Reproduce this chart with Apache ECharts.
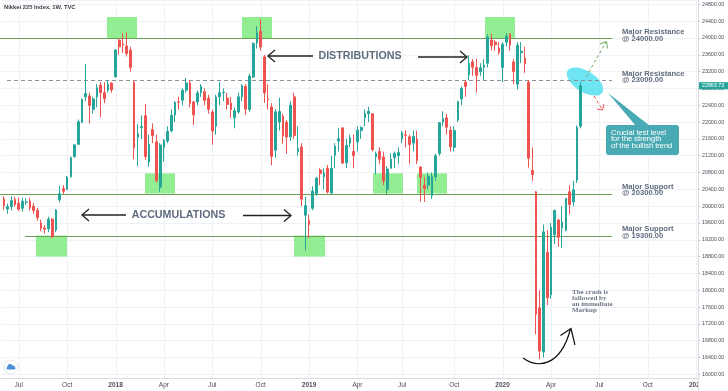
<!DOCTYPE html>
<html><head><meta charset="utf-8">
<script src="https://cdn.jsdelivr.net/npm/echarts@6/dist/echarts.min.js"></script>
<style>html,body{margin:0;padding:0;background:#fff}#c{width:728px;height:391px}</style>
</head><body><div id="c"></div>
<script>
// ---------- DATA ----------
const firstWeek = '2017-06-05';
const skippedWeeks = ['2019-04-29'];      // Golden Week 2019: no trading, no bar
const weekCount = 187;                     // bars + empty future weeks on the time scale
const tickDates  = ['2017-07-03','2017-10-02','2018-01-01','2018-04-02','2018-07-02','2018-10-01','2018-12-31','2019-04-01','2019-07-01','2019-10-07','2020-01-06','2020-04-06','2020-07-06','2020-10-05','2021-01-04'];
const tickLabels = ['Jul','Oct','2018','Apr','Jul','Oct','2019','Apr','Jul','Oct','2020','Apr','Jul','Oct','2021'];
const priceTicks = {min:16000, max:24904, step:400};

// [open, close, low, high]
const ohlc2017 = [
[20170,20013,19916,20239],[19930,19990,19820,20060],[19990,20132,19900,20230],[20160,20033,19990,20225],
[20070,19929,19880,20200],[19950,20118,19870,20200],[20090,20099,20030,20190],[20120,19959,19900,20200],
[20000,19900,19820,20080],[19900,19729,19650,19960],[19600,19470,19400,19680],[19480,19452,19350,19550],
[19460,19691,19380,19750],[19690,19274,19240,19720],[19430,19909,19380,19930],[20150,20296,20090,20480],
[20420,20356,20290,20500],[20400,20690,20380,20720],[20700,21155,20680,21180],[21180,21457,21150,21480],
[21470,22008,21460,22060],[21990,22539,21980,22560],[22600,22681,22500,23382],[22620,22397,21972,22700],
[22300,22551,22200,22600],[22600,22819,22350,22900],[22880,22700,22119,22950],[22700,22553,22450,22950],
[22760,22902,22700,22990],[22930,22764,22700,22950]
];
const ohlc2018 = [
[23073,23714,23065,23730],[23950,23790,23600,23990],[23860,23830,23650,24110],[23810,23631,23560,24129],
[23714,23300,23200,23790],[22940,21382,21119,23000],[21640,21720,20950,21950],[21870,21892,21600,22160],
[22150,21181,21100,22430],[21050,21469,20937,21700],[21820,21676,21500,21970],[21530,20617,20555,21700],
[20450,21454,20347,21500],[21400,21567,21056,21600],[21550,21778,21500,21900],[21790,22162,21760,22300],
[22170,22467,22000,22500],[22480,22472,22300,22600],[22520,22758,22400,22800],[22760,22930,22700,23050],
[22930,22450,22350,23002],[22480,22171,21931,22500],[22480,22694,22400,22750],[22700,22851,22600,22900],
[22720,22516,22400,22800],[22570,22304,22200,22650],[22240,21788,21462,22300],[21900,22597,21700,22650],
[22600,22697,22400,22950],[22700,22712,22500,22800],[22570,22420,22300,22700],[22450,22298,22100,22600],
[22100,22270,21851,22350],[22240,22601,22200,22700],[22600,22865,22500,22900],[22850,22307,22173,22900],
[22300,23094,22250,23150],[23070,23869,23050,23900],[23880,24120,23750,24286],[24160,23784,23700,24448],
[23550,22694,22459,23600],[22550,22532,22300,22900],[22360,21184,20971,22450],[21330,22243,21150,22300],
[22000,22250,21800,22583],[22140,21680,21484,22200],[22000,21646,21243,22050],[21650,22400,21550,22500],
[22600,21679,21600,22698],[21300,21374,21200,21900],[21410,20166,20006,21500],[19785,20014,18948,20220]
];
const ohlc2019 = [
[19655,19561,19241,19800],[19950,20359,19900,20470],[20300,20666,20250,20700],[20860,20773,20500,20900],
[20700,20788,20400,20900],[20900,20333,20300,20980],[20310,20900,20300,21200],[21210,21425,20900,21500],
[21550,21602,21300,21860],[21860,21025,21000,21880],[21030,21450,20900,21600],[21500,21627,21400,21700],
[21300,21205,20900,21700],[21530,21807,21300,21900],[21800,21870,21600,21900],[22100,22200,21900,22300],
[22200,22258,22000,22362],[22200,21344,21300,22200],[21170,21250,20751,21300],[21300,21117,21000,21400],
[21170,20601,20500,21300],[20400,20884,20289,20950],[20900,21116,20900,21260],[21150,21258,20900,21300],
[21200,21275,21000,21400],[21600,21746,21500,21784],[21700,21685,21400,21800],[21650,21466,21000,21700],
[21500,21658,21300,21800],[21600,21087,21000,21800],[20930,20684,20110,20950],[20500,20418,20100,20700],
[20500,20710,20400,20800],[20250,20704,20173,20800],[20700,21199,20600,21250],[21250,21988,21200,22000],
[22000,22079,21900,22255],[22100,21879,21700,22200],[21810,21410,21300,21900],[21400,21798,21300,21900],
[22050,22492,22000,22500],[22550,22799,22400,22850],[22950,22850,22600,23000],[23120,23391,23000,23591],
[23430,23303,23100,23500],[23300,23112,22700,23500],[23200,23293,23100,23400],[23300,23354,23000,23500],
[23400,24023,23300,24091],[23950,23816,23700,24100],[23900,23837,23700,23950],[23760,23656,23600,23900]
];
const ohlc2020 = [
[23300,23850,22951,23900],[23900,24041,23800,24115],[24100,23827,23700,24115],[23430,23205,22900,23500],
[22900,23827,22775,23900],[23650,23687,23400,23900],[23520,23386,23170,23790],[22950,21142,20916,23000],
[20850,20749,20600,21400],[20340,17431,16950,20360],[17580,16552,16358,18000],[16530,19389,16400,19564],
[18900,17820,17646,19430],[17890,19498,17800,19600],[19320,19897,19100,19920],[19670,19262,19030,19700],
[19480,19619,19000,20000],[19430,20180,19400,20200],[20340,20037,19800,20500],[20100,20388,20000,20600],
[20620,21877,20550,21920],[21900,22863.73,21850,22950]
];
// horizontal levels drawn on the chart
const resistanceLevels = [24000, 23000];
const supportLevels = [20300, 19300];

// ---------- BUILD ----------
const categories = [];
{ let t = Date.parse(firstWeek + 'T00:00:00Z');
  while (categories.length < weekCount) {
    const s = new Date(t).toISOString().slice(0,10);
    if (!skippedWeeks.includes(s)) categories.push(s);
    t += 7*86400000;
  } }
const tickMap = new Map(tickDates.map((d,i)=>[d,tickLabels[i]]));
const ohlc = [...ohlc2017, ...ohlc2018, ...ohlc2019, ...ohlc2020];
const lastClose = ohlc[ohlc.length-1][1];

const UP='#26a69a', DOWN='#ef5350';
const FONT='"Liberation Sans", Arial, sans-serif';
const chart = echarts.init(document.getElementById('c'));
chart.setOption({
  animation:false,
  backgroundColor:'#ffffff',
  grid:{left:2,right:30,top:0,bottom:16.7},
  xAxis:{type:'category',data:categories,boundaryGap:true,
    axisLine:{show:false},axisTick:{show:false},splitLine:{show:false},
    axisLabel:{interval:(i,v)=>tickMap.has(v),
      formatter:v=>{const l=tickMap.get(v)||''; return /^\d{4}$/.test(l)?'{y|'+l+'}':l;},
      fontSize:6.5,fontFamily:FONT,color:'#4a4e59',margin:7.5,
      rich:{y:{fontWeight:'bold',fontSize:6.5,fontFamily:FONT,color:'#4a4e59'}}}},
  yAxis:{type:'value',position:'right',min:priceTicks.min,max:priceTicks.max,interval:priceTicks.step,
    axisLine:{show:false},
    axisTick:{show:true,length:2,lineStyle:{color:'#b2b5be'}},
    splitLine:{lineStyle:{color:'#eef1f6',width:1}},
    axisLabel:{fontSize:5.3,fontFamily:FONT,color:'#4a4e59',margin:4,showMaxLabel:false,
      formatter:v=>v.toFixed(2)}},
  series:[{type:'candlestick',data:ohlc,barWidth:2.2,z:5,
    itemStyle:{color:UP,color0:DOWN,borderColor:UP,borderColor0:DOWN,borderWidth:1}}]
});

// ---------- ANNOTATIONS ----------
const Y = v => chart.convertToPixel({yAxisIndex:0}, v);
const X = c => chart.convertToPixel({xAxisIndex:0}, c);
const g = [];
const GREEN_LINE='#6b9e57', BOX='rgba(128,234,128,0.85)';
// vertical grid lines at time ticks
tickDates.forEach(d=>{ const x=Math.round(X(d))+0.5; g.push({type:'line',z:0,shape:{x1:x,y1:0,x2:x,y2:378},style:{stroke:'#eef1f6',lineWidth:1}}); });
// green zones
const box=(x1,x2,v1,v2)=>{const a=Y(v1),b=Y(v2); g.push({type:'rect',z:1,shape:{x:x1,y:Math.min(a,b),width:x2-x1,height:Math.abs(a-b)},style:{fill:BOX}});};
box(107,137,24000,24500); box(242,272,24000,24500); box(485,515,24000,24500);
box(145,175,20300,20780); box(373,403,20300,20780); box(417,447,20300,20780);
box(36,67,19300,18800); box(294,325,19300,18800);
// ellipse
g.push({type:'ellipse',z:1,x:585,y:81.5,rotation:-0.56,shape:{cx:0,cy:0,rx:20.5,ry:10.5},style:{fill:'rgba(70,222,240,0.78)'}});
// level lines
const hl=(v,x1,x2,color,dash)=>{const y=Math.round(Y(v))+0.5; g.push({type:'line',z:3,shape:{x1:x1,y1:y,x2:x2,y2:y},style:{stroke:color,lineWidth:1,lineDash:dash||null}});};
hl(resistanceLevels[0],0,612,GREEN_LINE);
hl(resistanceLevels[1],7,612,'#8c8f96',[4,3]);
hl(supportLevels[0],0,612,GREEN_LINE);
hl(supportLevels[1],25,612,GREEN_LINE);
// frame lines
g.push({type:'line',z:20,shape:{x1:0,y1:378.5,x2:698,y2:378.5},style:{stroke:'#d9dbe0',lineWidth:1}});
g.push({type:'rect',z:20,shape:{x:698.5,y:379,width:30,height:12},style:{fill:'#ffffff'}});
g.push({type:'line',z:21,shape:{x1:698.5,y1:0,x2:698.5,y2:391},style:{stroke:'#d9dbe0',lineWidth:1}});
// last price tag
{ const y=Y(lastClose); g.push({type:'rect',z:22,shape:{x:699,y:y-3.6,width:29,height:7.2},style:{fill:UP}});
  g.push({type:'text',z:23,x:702,y:y,style:{text:lastClose.toFixed(2),fill:'#fff',font:'5.3px '+FONT,verticalAlign:'middle',align:'left'}}); }
// title
g.push({type:'text',z:20,x:4,y:7,style:{text:'Nikkei 225 Index, 1W, TVC',fill:'#3a3d45',font:'bold 5.8px '+FONT,verticalAlign:'middle'}});
// big labels
const big=(t,x,y)=>g.push({type:'text',z:20,x:x,y:y,style:{text:t,fill:'#5f6c7e',font:'bold 10.7px '+FONT,align:'center',verticalAlign:'middle'}});
big('DISTRIBUTIONS',360,56); big('ACCUMULATIONS',178.5,215);
// arrows
const arrow=(x1,x2,y,dir)=>{ g.push({type:'line',z:20,shape:{x1:x1,y1:y,x2:x2,y2:y},style:{stroke:'#222',lineWidth:1.3}});
  const tip = dir<0?x1:x2, b = tip - dir*7;
  g.push({type:'polyline',z:20,shape:{points:[[b,y-6],[tip,y],[b,y+6]]},style:{stroke:'#222',lineWidth:1.3,fill:null}}); };
arrow(268,313,56,-1); arrow(418,467,57,1);
arrow(82,126,215,-1); arrow(243,291,215.5,1);
// level labels
const lvl=(t,y)=>g.push({type:'text',z:20,x:622,y:y,style:{text:t,fill:'#5f6c7e',font:'bold 7.6px '+FONT,lineHeight:6.6,verticalAlign:'top'}});
lvl('Major Resistance\n@ 24000.00',28.7); lvl('Major Resistance\n@ 23000.00',70.5);
lvl('Major Support\n@ 20300.00',183.2); lvl('Major Support\n@ 19300.00',226);
// projection arrows
g.push({type:'line',z:20,shape:{x1:586,y1:77,x2:606,y2:42},style:{stroke:'#6fa95c',lineWidth:1,lineDash:[3,2.5]}});
g.push({type:'polyline',z:20,shape:{points:[[600,44],[606.5,41.5],[607.5,48.5]]},style:{stroke:'#6fa95c',lineWidth:1,fill:null}});
g.push({type:'line',z:20,shape:{x1:594,y1:96,x2:602,y2:109},style:{stroke:'#ef5350',lineWidth:1,lineDash:[3,2.5]}});
g.push({type:'polyline',z:20,shape:{points:[[597,109],[602.5,110],[604,104]]},style:{stroke:'#ef5350',lineWidth:1,fill:null}});
// callout
g.push({type:'polygon',z:19,shape:{points:[[608,93],[636,126],[650,126]]},style:{fill:'#4aaab4'}});
g.push({type:'rect',z:19,shape:{x:606,y:125,width:73,height:30,r:3},style:{fill:'#4aaab4'}});
g.push({type:'text',z:20,x:611,y:129.5,style:{text:'Crucial test level\nfor the strength\nof the bullish trend',fill:'#ffffff',font:'7.5px '+FONT,lineHeight:6.4,verticalAlign:'top'}});
// crash note
g.push({type:'text',z:20,x:572,y:289.5,style:{text:'The crash is\nfollowed by\nan immediate\nMarkup',fill:'#6e7787',font:'bold 7px "Liberation Serif", "DejaVu Serif", serif',lineHeight:5.8,verticalAlign:'top'}});
g.push({type:'bezierCurve',z:20,shape:{x1:523,y1:358,cpx1:537,cpy1:368,cpx2:560,cpy2:368,x2:570.5,y2:329},style:{stroke:'#111',lineWidth:1.2,fill:null}});
g.push({type:'polyline',z:20,shape:{points:[[560.5,335.5],[571,328.5],[575,345]]},style:{stroke:'#111',lineWidth:1.2,fill:null}});
// logo
g.push({type:'circle',z:20,shape:{cx:11,cy:367,r:7},style:{fill:'#fff',stroke:'#e3e6ec',lineWidth:1}});
g.push({type:'circle',z:21,shape:{cx:10,cy:366.5,r:2.6},style:{fill:'#4a8fd4'}});
g.push({type:'rect',z:21,shape:{x:6.5,y:367,width:9,height:2.6,r:1.3},style:{fill:'#4a8fd4'}});
g.push({type:'circle',z:21,shape:{cx:13.2,cy:367.3,r:1.8},style:{fill:'#4a8fd4'}});

chart.setOption({graphic:{elements:g}});
</script></body></html>
